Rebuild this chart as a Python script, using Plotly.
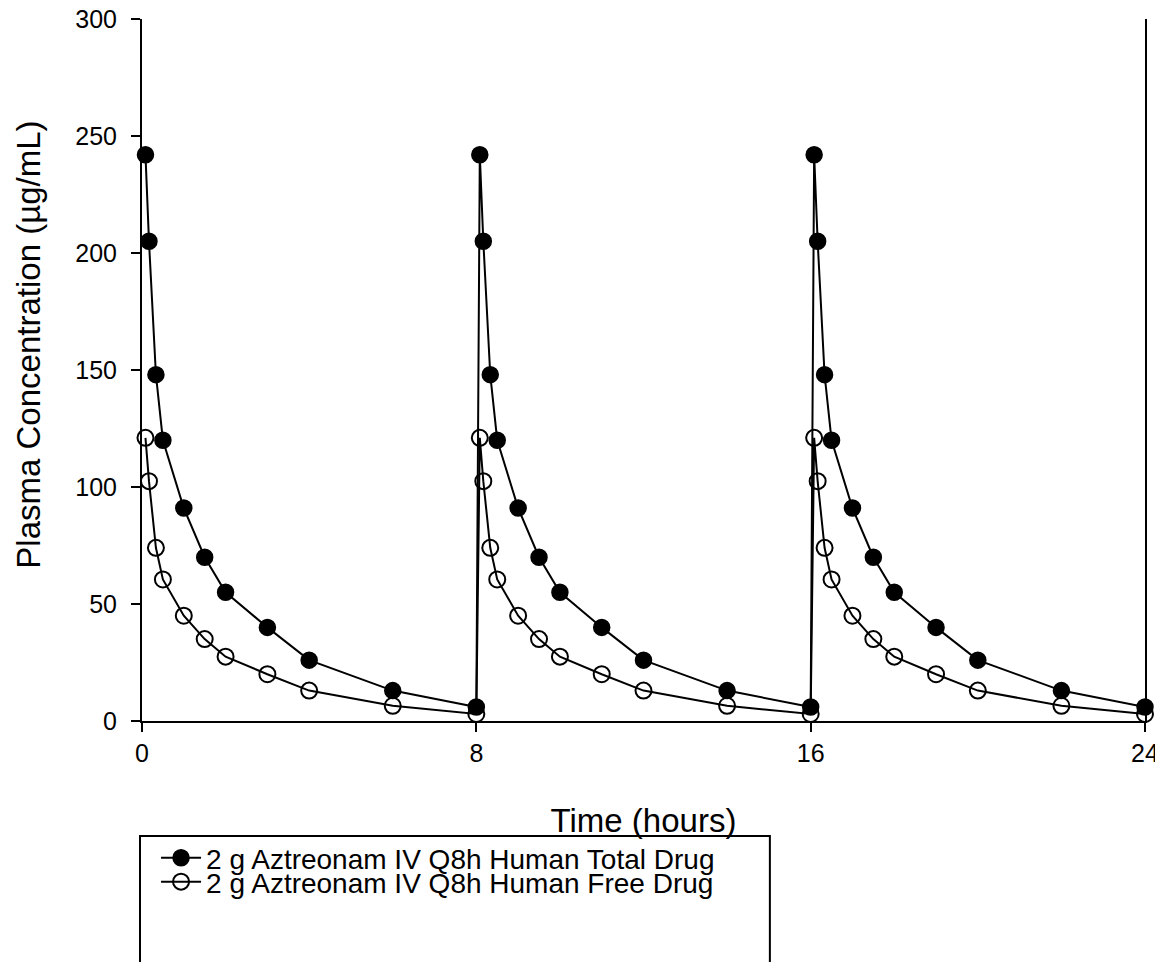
import plotly.graph_objects as go

# Time points (hours) over three Q8h doses
time_h = [0.083, 0.167, 0.333, 0.5, 1, 1.5, 2, 3, 4, 6, 8,
          8.083, 8.167, 8.333, 8.5, 9, 9.5, 10, 11, 12, 14, 16,
          16.083, 16.167, 16.333, 16.5, 17, 17.5, 18, 19, 20, 22, 24]

# Plasma concentration (ug/mL)
total_drug = [242, 205, 148, 120, 91, 70, 55, 40, 26, 13, 6,
              242, 205, 148, 120, 91, 70, 55, 40, 26, 13, 6,
              242, 205, 148, 120, 91, 70, 55, 40, 26, 13, 6]
free_drug = [121, 102.5, 74, 60.5, 45, 35, 27.5, 20, 13, 6.5, 3,
             121, 102.5, 74, 60.5, 45, 35, 27.5, 20, 13, 6.5, 3,
             121, 102.5, 74, 60.5, 45, 35, 27.5, 20, 13, 6.5, 3]

x_ticks = [0, 8, 16, 24]
y_ticks = [0, 50, 100, 150, 200, 250, 300]

FONT = "Liberation Sans, Arial, sans-serif"

fig = go.Figure()

fig.add_trace(go.Scatter(
    x=time_h, y=total_drug,
    name='2 g Aztreonam IV Q8h Human Total Drug',
    mode='lines+markers',
    line=dict(color='black', width=2),
    marker=dict(symbol='circle', size=16, color='black', line=dict(color='black', width=1.5)),
    cliponaxis=False,
    legend='legend'
))

fig.add_trace(go.Scatter(
    x=time_h, y=free_drug,
    name='2 g Aztreonam IV Q8h Human Free Drug',
    mode='lines+markers',
    line=dict(color='black', width=2),
    marker=dict(symbol='circle-open', size=16, color='black', line=dict(color='black', width=2)),
    cliponaxis=False,
    legend='legend2'
))

# one legend per entry so the rows sit close together like the original
legend_style = dict(
    x=0.014, xanchor='left', yanchor='middle',
    font=dict(size=28, family=FONT, color='black'),
    bgcolor='rgba(0,0,0,0)', borderwidth=0,
    itemwidth=40
)

# page body has an 8px margin; plot area on the page ends up x 142..1145, y 19..721
fig.update_layout(
    width=1163, height=962,
    margin=dict(l=134, r=26, t=11, b=249, autoexpand=False),
    paper_bgcolor='white', plot_bgcolor='white',
    font=dict(family=FONT, color='black'),
    showlegend=True,
    legend=dict(legend_style, y=-0.1952),
    legend2=dict(legend_style, y=-0.2293),
    shapes=[dict(
        type='rect', xref='paper', yref='paper',
        x0=-0.002, x1=0.626, y0=-0.36, y1=-0.1638,
        line=dict(color='black', width=2), fillcolor='rgba(0,0,0,0)', layer='below'
    )],
    annotations=[dict(
        text='Plasma Concentration (µg/mL)', textangle=-90,
        xref='paper', yref='paper', x=-0.114, y=0.5356,
        xanchor='center', yanchor='middle', showarrow=False,
        font=dict(size=33, family=FONT, color='black')
    )]
)

fig.update_xaxes(
    range=[0, 24], tickvals=x_ticks,
    showline=True, linecolor='black', linewidth=2,
    ticks='outside', ticklen=9, tickwidth=2, tickcolor='black',
    tickfont=dict(size=25, family=FONT, color='black'),
    ticklabeloverflow='allow',
    showgrid=False, zeroline=False,
    title=dict(text='Time (hours)', font=dict(size=33, family=FONT, color='black'), standoff=43)
)
fig.update_yaxes(
    range=[0, 300], tickvals=y_ticks,
    showline=True, linecolor='black', linewidth=2, mirror=True,
    ticks='outside', ticklen=9, tickwidth=2, tickcolor='black',
    tickfont=dict(size=25, family=FONT, color='black'),
    ticklabelstandoff=9, ticklabeloverflow='allow',
    showgrid=False, zeroline=False
)

fig.write_html("out.html")
